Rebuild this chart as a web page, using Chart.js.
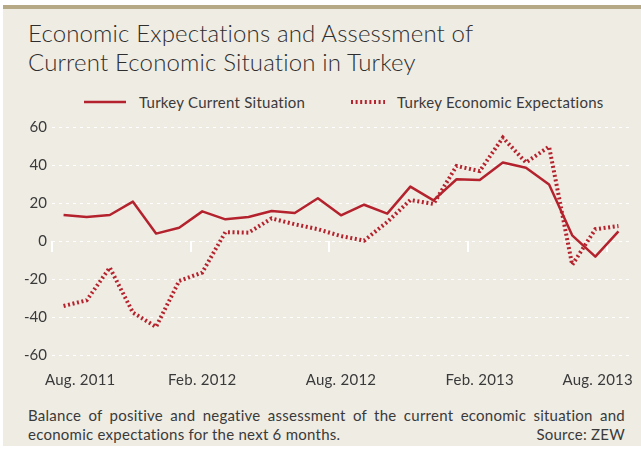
<!DOCTYPE html>
<html>
<head>
<meta charset="utf-8">
<script src="https://cdn.jsdelivr.net/npm/chart.js@4.4.1/dist/chart.umd.min.js"></script>
<style>
  body { margin: 0; background: #fff; width: 641px; height: 451px; overflow: hidden; font-family: Lato, sans-serif; color: #3a3a3a; }
  #panel { position: absolute; left: 3px; top: 5px; width: 638px; height: 441px; background: #efece4; border-top: 4px solid #b5a986; box-sizing: border-box; }
  #title { position: absolute; left: 28px; top: 18px; font-size: 24px; font-weight: 300; line-height: 29px; letter-spacing: 0.15px; color: #2e2e2e; }
  .leg { position: absolute; top: 94px; font-size: 15px; letter-spacing: 0.25px; line-height: 16px; white-space: nowrap; }
  .leg svg { position: absolute; top: 5px; }
  #foot1 { position: absolute; left: 28px; top: 406px; width: 597px; font-size: 15px; letter-spacing: 0.25px; line-height: 18px; text-align: justify; text-align-last: justify; }
  #foot2 { position: absolute; left: 28px; top: 425px; width: 597px; font-size: 15px; letter-spacing: 0.25px; line-height: 18px; display: flex; justify-content: space-between; }
  canvas { position: absolute; left: 0; top: 0; }
</style>
</head>
<body>
<div id="panel"></div>
<div id="title">Economic Expectations and Assessment of<br>Current Economic Situation in Turkey</div>
<div class="leg" style="left:84px"><svg width="42" height="6"><line x1="0" y1="3" x2="42" y2="3" stroke="#b4232d" stroke-width="2.5"/></svg><span style="margin-left:55px">Turkey Current Situation</span></div>
<div class="leg" style="left:351px"><svg width="34" height="6"><line x1="0" y1="3" x2="34" y2="3" stroke="#b4232d" stroke-width="4" stroke-dasharray="2 2.6"/></svg><span style="margin-left:46px">Turkey Economic Expectations</span></div>
<div id="foot1">Balance of positive and negative assessment of the current economic situation and</div>
<div id="foot2"><span>economic expectations for the next 6 months.</span><span>Source: ZEW</span></div>
<div style="position:absolute;left:0;top:0;width:641px;height:451px"><canvas id="chart"></canvas></div>
<script>
// monthly survey, Aug. 2011 - Aug. 2013
const months = [
  'Aug. 2011', 'Sep. 2011', 'Oct. 2011', 'Nov. 2011', 'Dec. 2011', 'Jan. 2012',
  'Feb. 2012', 'Mar. 2012', 'Apr. 2012', 'May 2012', 'Jun. 2012', 'Jul. 2012',
  'Aug. 2012', 'Sep. 2012', 'Oct. 2012', 'Nov. 2012', 'Dec. 2012', 'Jan. 2013',
  'Feb. 2013', 'Mar. 2013', 'Apr. 2013', 'May 2013', 'Jun. 2013', 'Jul. 2013',
  'Aug. 2013'
];
const currentSituation = [13.7, 12.6, 13.7, 20.7, 3.9, 7.0, 15.6, 11.4, 12.6, 15.8, 14.7, 22.5,
  13.5, 19.1, 14.4, 28.6, 21.4, 32.5, 32.1, 41.3, 38.6, 29.7, 3.0, -8.2, 5.1];
const expectations = [-34.2, -31.2, -14.0, -37.7, -45.2, -21.0, -16.6, 4.7, 4.4, 11.9, 8.8, 6.2,
  2.6, 0.2, 10.0, 21.6, 19.5, 39.5, 36.8, 54.4, 41.3, 49.7, -12.6, 6.2, 7.9];
const labelIdx = [0, 6, 12, 18, 24];
const yTicks = [-60, -40, -20, 0, 20, 40, 60];

const red = '#b4232d';
const textColor = '#3a3a3a';

// white marks on the zero line and the month labels under the plot
const monthAxis = {
  id: 'monthAxis',
  beforeDatasetsDraw(chart) {
    const {ctx, scales: {x, y}} = chart;
    const zero = y.getPixelForValue(0);
    const step = x.width / months.length;
    ctx.save();
    ctx.strokeStyle = '#ffffff';
    ctx.lineWidth = 2;
    labelIdx.forEach(function(i) {
      const px = Math.round(x.getPixelForValue(i) - step / 2);
      ctx.beginPath();
      ctx.moveTo(px, zero);
      ctx.lineTo(px, zero + 11);
      ctx.stroke();
    });
    ctx.restore();
  },
  afterDraw(chart) {
    const {ctx, scales: {x}} = chart;
    ctx.save();
    ctx.font = '15px Lato';
    ctx.letterSpacing = '0.25px';
    ctx.fillStyle = textColor;
    ctx.textBaseline = 'middle';
    ctx.textAlign = 'left';
    labelIdx.forEach(function(i) {
      const w = ctx.measureText(months[i]).width;
      let px = x.getPixelForValue(i) - w / 2;
      px = Math.max(45, Math.min(px, 633 - w));
      ctx.fillText(months[i], px, x.top + 25);
    });
    ctx.restore();
  }
};

const ctx = document.getElementById('chart').getContext('2d');
new Chart(ctx, {
  type: 'line',
  data: {
    labels: months,
    datasets: [{
      label: 'Turkey Current Situation',
      data: currentSituation,
      borderColor: red,
      borderWidth: 2.5,
      pointRadius: 0,
      tension: 0,
      borderJoinStyle: 'round'
    }, {
      label: 'Turkey Economic Expectations',
      data: expectations,
      borderColor: red,
      borderWidth: 4,
      borderDash: [2, 2.6],
      pointRadius: 0,
      tension: 0
    }]
  },
  options: {
    responsive: true,
    maintainAspectRatio: false,
    animation: false,
    layout: { padding: { top: 127, left: 0, right: 11, bottom: 56 } },
    plugins: {
      legend: { display: false },
      tooltip: { enabled: false }
    },
    scales: {
      x: {
        offset: true,
        grid: { display: false },
        border: { display: false },
        ticks: { display: false },
        afterFit: function(scale) { scale.height = 40; }
      },
      y: {
        min: -60,
        max: 60,
        afterBuildTicks: function(scale) { scale.ticks = yTicks.map(v => ({ value: v })); },
        grid: { color: '#ffffff', lineWidth: 1, drawTicks: false },
        border: { display: false, dash: [3, 4] },
        ticks: { color: textColor, font: { family: 'Lato', size: 15 }, padding: 5 },
        afterFit: function(scale) { scale.width = 52; }
      }
    }
  },
  plugins: [monthAxis]
});
</script>
</body>
</html>
